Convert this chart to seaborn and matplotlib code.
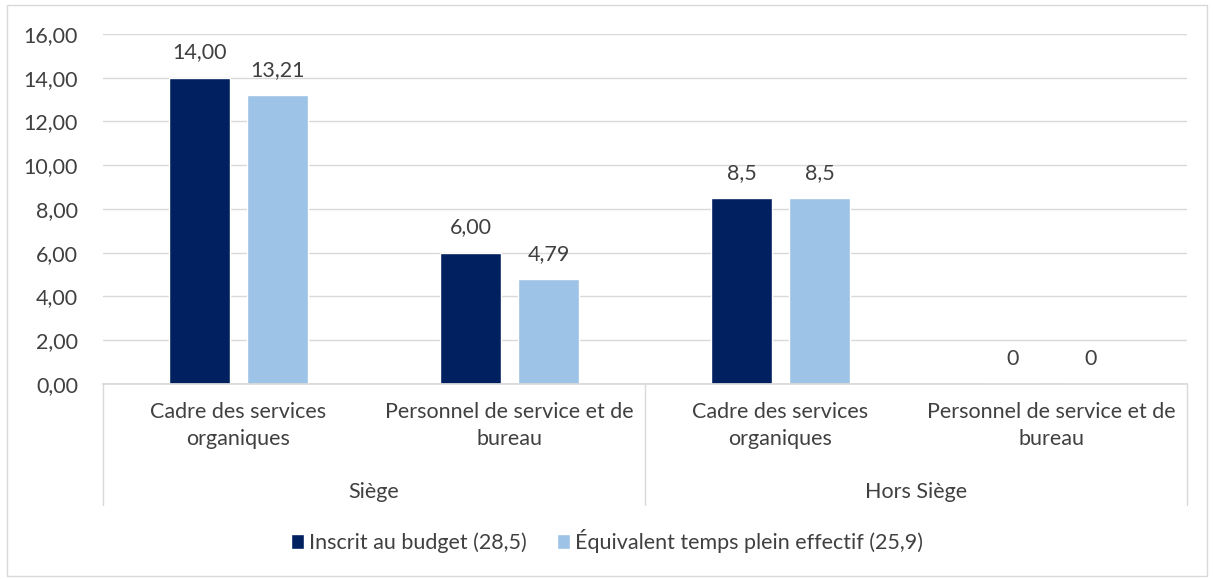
import matplotlib.pyplot as plt
import matplotlib.patches as mpatches
import matplotlib.transforms as mtransforms
from matplotlib.ticker import FuncFormatter
import pandas as pd
import seaborn as sns

groups = ["Siège", "Siège", "Hors Siège", "Hors Siège"]
categories = ["Cadre des services\norganiques", "Personnel de service et de\nbureau",
              "Cadre des services\norganiques", "Personnel de service et de\nbureau"]
series = ["Inscrit au budget (28,5)", "Équivalent temps plein effectif (25,9)"]
inscrit = [14.00, 6.00, 8.5, 0]
etp = [13.21, 4.79, 8.5, 0]
labels_inscrit = ["14,00", "6,00", "8,5", "0"]
labels_etp = ["13,21", "4,79", "8,5", "0"]
colors = ["#002060", "#9DC3E6"]

keys = [f"{g}|{i}" for i, g in enumerate(groups)]
df = pd.DataFrame({
    "cle": keys * 2,
    "serie": [series[0]] * 4 + [series[1]] * 4,
    "valeur": inscrit + etp,
})

sns.set_theme(style="white")
plt.rcParams["font.family"] = ["Lato", "DejaVu Sans"]
text_col = "#404040"
fs = 15.5

fig = plt.figure(figsize=(12.14, 5.79), dpi=100)
ax = fig.add_axes([0.0848, 0.3368, 0.893, 0.6045])

sns.barplot(data=df, x="cle", y="valeur", hue="serie", order=keys,
            hue_order=series, palette=colors, width=0.576, gap=0.22,
            saturation=1, ax=ax, legend=True)

ax.set_ylim(0, 16)
ax.set_xlim(-0.5, 3.5)
ax.set_yticks(range(0, 17, 2))
ax.yaxis.set_major_formatter(FuncFormatter(lambda v, p: f"{v:.2f}".replace(".", ",")))
ax.grid(axis="y", color="#D9D9D9", linewidth=1)
ax.set_axisbelow(True)
for s in ["top", "right", "left"]:
    ax.spines[s].set_visible(False)
ax.spines["bottom"].set_color("#D9D9D9")
ax.tick_params(axis="y", length=0, labelsize=fs, labelcolor=text_col, pad=18)
ax.tick_params(axis="x", length=0, labelsize=fs, labelcolor=text_col, pad=13)
ax.set_xticks(range(4))
ax.set_xticklabels(categories, linespacing=1.45)
ax.set_xlabel("")
ax.set_ylabel("")

for cont, labs in zip(ax.containers, [labels_inscrit, labels_etp]):
    ax.bar_label(cont, labels=labs, padding=11, fontsize=fs, color=text_col)

# separateurs et niveaux de groupes
trans = mtransforms.blended_transform_factory(ax.transData, ax.transAxes)
for xs in [-0.5, 1.5, 3.5]:
    ax.plot([xs, xs], [0, -0.346], color="#D9D9D9", lw=1, transform=trans, clip_on=False)
for xg, g in [(0.5, "Siège"), (2.5, "Hors Siège")]:
    ax.text(xg, -0.309, g, transform=trans, ha="center", va="center",
            fontsize=fs, color=text_col)

handles, lbls = ax.get_legend_handles_labels()
ax.legend(handles, lbls, loc="center", bbox_to_anchor=(0.5, 0.066),
          bbox_transform=fig.transFigure, ncol=2, frameon=False,
          fontsize=fs, labelcolor=text_col, handlelength=0.6, handleheight=0.7,
          handletextpad=0.25, columnspacing=1.4)

fig.patches.append(mpatches.Rectangle((0.006, 0.006), 0.988, 0.985, transform=fig.transFigure,
                                      fill=False, edgecolor="#D9D9D9", lw=1))

fig.savefig("out.png", dpi=100)
